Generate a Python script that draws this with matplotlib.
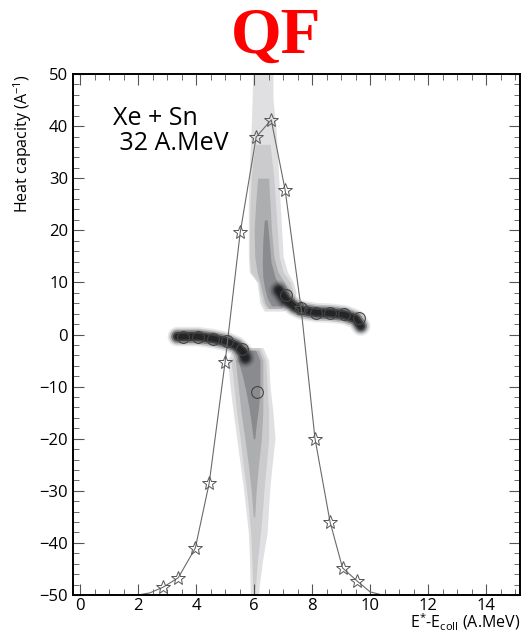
import matplotlib
matplotlib.use('Agg')
import matplotlib.pyplot as plt
import numpy as np

plt.rcParams['font.family'] = ['Open Sans', 'DejaVu Sans']
plt.rcParams['mathtext.default'] = 'regular'

# stars (fluctuation curve)
star_x = [2.86, 3.38, 3.97, 4.45, 5.0, 5.52, 6.07, 6.59, 7.07, 7.62, 8.1, 8.62, 9.05, 9.55]
star_y = [-48.5, -46.7, -41.0, -28.5, -5.2, 19.6, 37.9, 41.2, 27.7, 5.0, -20.0, -36.0, -44.8, -47.3]
tail_lx = [1.9, 2.4]
tail_ly = [-50.1, -49.6]
tail_rx = [10.0, 10.5]
tail_ry = [-49.4, -50.1]

# circles (mean heat capacity)
circ_x = [3.55, 4.07, 4.59, 5.07, 5.59, 6.1, 7.1, 7.62, 8.14, 8.62, 9.1, 9.62]
circ_y = [-0.4, -0.4, -0.8, -1.3, -2.7, -11.0, 7.5, 5.0, 4.2, 4.2, 4.0, 3.1]

# dark bands along the two branches
lowbr_x = [3.35, 3.55, 4.07, 4.59, 5.07, 5.4, 5.59, 5.7]
lowbr_y = [-0.4, -0.4, -0.4, -0.8, -1.4, -2.2, -3.2, -4.5]
upbr_x = [6.85, 7.1, 7.4, 7.62, 8.14, 8.62, 9.1, 9.5, 9.68]
upbr_y = [8.5, 6.6, 5.3, 4.7, 4.2, 4.1, 3.8, 3.0, 1.6]

# shaded uncertainty regions: (y, left, right) per grey level
up_y = [50, 45, 40, 35, 30, 25, 20, 15, 12, 10, 8, 6, 4.5]
up1_l = [5.95, 5.93, 5.9, 5.86, 5.82, 5.8, 5.8, 5.8, 5.83, 6.1, 6.15, 6.2, 6.35]
up1_r = [6.65, 6.65, 6.75, 6.8, 6.85, 6.9, 6.95, 7.0, 7.15, 7.35, 7.45, 7.35, 7.0]
up2_y = [36.5, 33, 30, 25, 20, 15, 12, 10, 8, 6, 5]
up2_l = [6.05, 5.95, 5.9, 5.86, 5.84, 5.84, 5.88, 6.15, 6.2, 6.3, 6.4]
up2_r = [6.55, 6.62, 6.68, 6.74, 6.8, 6.86, 7.0, 7.25, 7.35, 7.25, 6.95]
up3_y = [30, 25, 20, 15, 12, 10, 8, 6, 5]
up3_l = [6.12, 6.05, 6.0, 6.02, 6.1, 6.2, 6.28, 6.38, 6.5]
up3_r = [6.5, 6.55, 6.6, 6.68, 6.82, 7.05, 7.22, 7.12, 6.9]
up4_y = [22, 18, 14, 11, 9, 7, 5.5]
up4_l = [6.35, 6.3, 6.28, 6.3, 6.36, 6.45, 6.6]
up4_r = [6.45, 6.52, 6.58, 6.72, 6.92, 7.05, 6.95]

lo_y = [-2.5, -5, -10, -15, -20, -25, -29, -33, -38, -43, -48, -50]
lo1_l = [5.3, 5.08, 5.17, 5.28, 5.4, 5.52, 5.62, 5.7, 5.8, 5.84, 5.86, 5.87]
lo1_r = [6.3, 6.5, 6.55, 6.65, 6.72, 6.62, 6.55, 6.5, 6.45, 6.3, 6.18, 6.15]
lo2_l = [5.45, 5.2, 5.3, 5.4, 5.52, 5.62, 5.72, 5.8, 5.88, 5.92, 5.95, 5.97]
lo2_r = [6.2, 6.4, 6.45, 6.5, 6.5, 6.42, 6.35, 6.3, 6.22, 6.12, 6.05, 6.03]
lo3_y = [-3, -5, -10, -15, -20, -25, -30, -35]
lo3_l = [5.55, 5.35, 5.45, 5.55, 5.68, 5.8, 5.9, 5.97]
lo3_r = [6.15, 6.3, 6.3, 6.3, 6.25, 6.15, 6.07, 6.02]
lo4_y = [-3, -5, -8, -11, -14, -17, -20]
lo4_l = [5.6, 5.45, 5.6, 5.72, 5.82, 5.9, 5.97]
lo4_r = [6.05, 6.2, 6.2, 6.2, 6.15, 6.08, 6.02]

greys = ['#e0e0e2', '#cbcbcd', '#adaeb0', '#8a8b8e']

fig = plt.figure(figsize=(5.3, 6.38), dpi=100)
ax = fig.add_axes([0.1377, 0.0674, 0.8433, 0.8166])

ax.fill_betweenx(up_y, up1_l, up1_r, color=greys[0], lw=0)
ax.fill_betweenx(up2_y, up2_l, up2_r, color=greys[1], lw=0)
ax.fill_betweenx(up3_y, up3_l, up3_r, color=greys[2], lw=0)
ax.fill_betweenx(up4_y, up4_l, up4_r, color=greys[3], lw=0)
ax.fill_betweenx(lo_y, lo1_l, lo1_r, color=greys[0], lw=0)
ax.fill_betweenx(lo_y, lo2_l, lo2_r, color=greys[1], lw=0)
ax.fill_betweenx(lo3_y, lo3_l, lo3_r, color=greys[2], lw=0)
ax.fill_betweenx(lo4_y, lo4_l, lo4_r, color=greys[3], lw=0)

# soft dark bands
for lw, a in [(14, 0.1), (11.5, 0.2), (9, 0.4), (6.5, 0.65), (4, 0.8)]:
    ax.plot(lowbr_x, lowbr_y, color='#1e1f21', lw=lw, alpha=a,
            solid_capstyle='round', solid_joinstyle='round')
    ax.plot(upbr_x, upbr_y, color='#1e1f21', lw=lw, alpha=a,
            solid_capstyle='round', solid_joinstyle='round')

line_x = tail_lx + star_x + tail_rx
line_y = tail_ly + star_y + tail_ry
ax.plot(line_x, line_y, color='#6a6a6a', lw=0.8)
ax.plot(star_x, star_y, ls='none', marker='*', ms=10, mfc='none',
        mec='#555555', mew=0.7)
ax.plot(circ_x, circ_y, ls='none', marker='o', ms=8.5, mfc='none',
        mec='#444444', mew=0.8)

ax.set_xlim(-0.25, 15.17)
ax.set_ylim(-50, 50)
ax.set_xticks(np.arange(0, 15, 2))
ax.set_xticks(np.arange(0, 15.5, 0.5), minor=True)
ax.set_yticks(np.arange(-50, 51, 10))
ax.set_yticks(np.arange(-50, 51, 2), minor=True)
ax.tick_params(which='both', direction='in', top=True, right=True,
               labelsize=12, color='#555555')
ax.tick_params(axis='x', pad=2)
ax.tick_params(which='major', length=8, width=0.8)
ax.tick_params(which='minor', length=4, width=0.6)
for s in ax.spines.values():
    s.set_linewidth(1.4)

ax.set_xlabel(r'E$^{*}$-E$_{coll}$ (A.MeV)', fontsize=11.5, loc='right',
              labelpad=-1)
ax.set_ylabel(r'Heat capacity (A$^{-1}$)', fontsize=11.5, loc='top', labelpad=4)

ax.text(0.09, 0.915, 'Xe + Sn', transform=ax.transAxes, fontsize=18,
        va='center')
ax.text(0.09, 0.866, ' 32 A.MeV', transform=ax.transAxes, fontsize=18,
        va='center')

fig.text(0.52, 0.943, 'QF', color='red', fontsize=47, fontweight='bold',
         family='Liberation Serif', ha='center', va='center')

fig.savefig('out.png', dpi=100)
